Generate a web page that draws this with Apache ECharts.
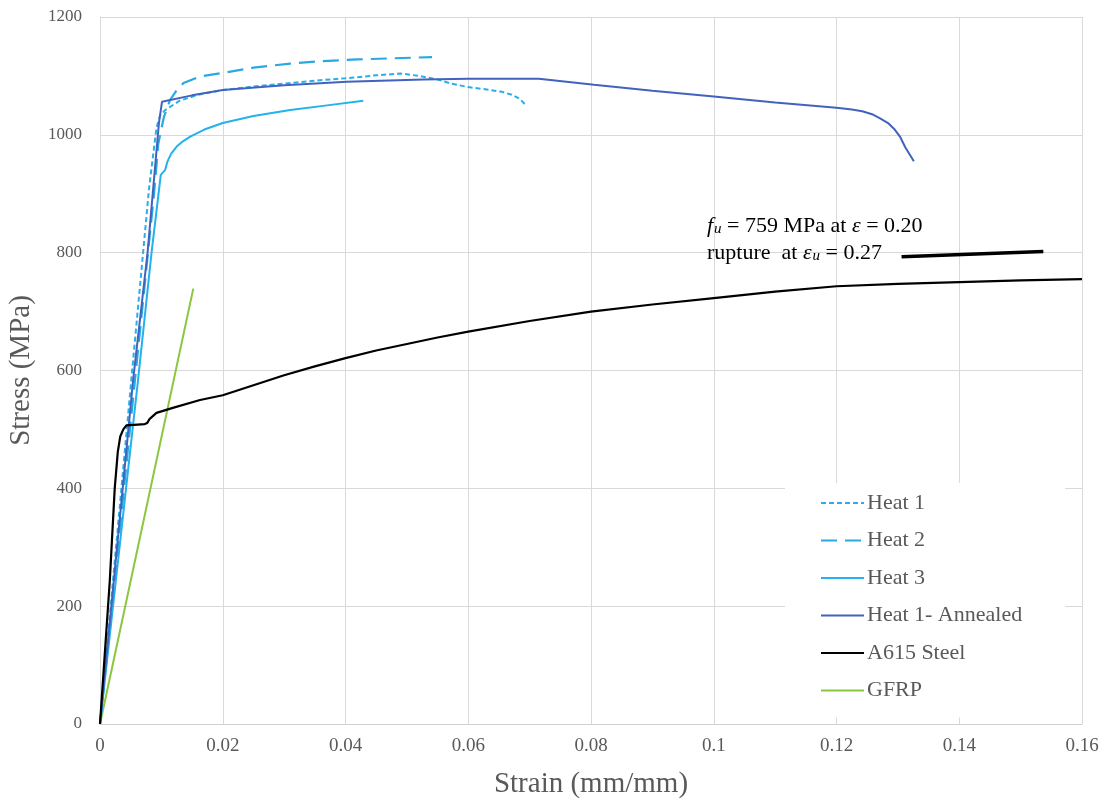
<!DOCTYPE html>
<html>
<head>
<meta charset="utf-8">
<script src="https://cdn.jsdelivr.net/npm/echarts@6/dist/echarts.min.js"></script>
<style>html,body{margin:0;padding:0;background:#fff;}#c{width:1106px;height:801px;}</style>
</head>
<body>
<div id="c"></div>
<script>
// ---- data (strain mm/mm, stress MPa) ----
const xTicks = [0, 0.02, 0.04, 0.06, 0.08, 0.1, 0.12, 0.14, 0.16];
const yTicks = [0, 200, 400, 600, 800, 1000, 1200];

const heat1X = [0, 0.002, 0.0051, 0.008, 0.0092, 0.0098, 0.0106, 0.013, 0.016, 0.02, 0.025, 0.03, 0.035, 0.04, 0.045, 0.049, 0.052, 0.055, 0.0572, 0.06, 0.063, 0.0655, 0.0671, 0.0684, 0.0694];
const heat1Y = [0, 230, 584, 910, 1012, 1033, 1042, 1058, 1068, 1076, 1082, 1087, 1092, 1096, 1101, 1104, 1100, 1094, 1087, 1081, 1077, 1073, 1068, 1061, 1050];

const heat2X = [0, 0.003, 0.0057, 0.0088, 0.0095, 0.0104, 0.0114, 0.0125, 0.0136, 0.0163, 0.02, 0.025, 0.031, 0.036, 0.0419, 0.048, 0.0541];
const heat2Y = [0, 307, 584, 900, 985, 1030, 1059, 1076, 1088, 1099, 1105, 1114, 1121, 1125, 1128, 1130, 1132];

const heat3X = [0, 0.003, 0.0062, 0.0084, 0.0099, 0.0106, 0.011, 0.0116, 0.0125, 0.0135, 0.0147, 0.017, 0.02, 0.025, 0.031, 0.037, 0.0429];
const heat3Y = [0, 283, 584, 800, 932, 940, 955, 968, 980, 989, 997, 1009, 1020, 1032, 1042, 1050, 1058];

const annealX = [0, 0.0054, 0.00775, 0.0096, 0.0101, 0.015, 0.02, 0.03, 0.0402, 0.0527, 0.06, 0.0715, 0.0805, 0.09, 0.1, 0.11, 0.12, 0.1225, 0.1242, 0.1258, 0.1271, 0.1284, 0.1294, 0.1304, 0.1312, 0.1326];
const annealY = [0, 584, 800, 1020, 1056, 1067, 1076, 1084, 1090, 1094, 1095, 1095, 1085, 1075, 1065, 1055, 1046, 1043, 1040, 1035, 1028, 1020, 1010, 996, 979, 955];

const steelX = [0, 0.0008, 0.0016, 0.0024, 0.0029, 0.0033, 0.0038, 0.0043, 0.0073, 0.0077, 0.0081, 0.0092, 0.012, 0.0163, 0.02, 0.025, 0.03, 0.035, 0.04, 0.045, 0.05, 0.055, 0.06, 0.07, 0.08, 0.09, 0.1, 0.11, 0.12, 0.13, 0.14, 0.15, 0.16];
const steelY = [0, 122, 244, 400, 462, 488, 500, 507, 509, 511, 518, 528, 537, 550, 558, 575, 592, 607, 621, 634, 645, 656, 666, 684, 700, 712, 723, 734, 743, 747, 750, 753, 755];

const gfrpX = [0, 0.0152];
const gfrpY = [0, 739];

// annotation arrow (data coords)
const arrowFrom = [0.1306, 793];
const arrowTo = [0.1537, 802];

function pairs(xs, ys) { return xs.map((x, i) => [x, ys[i]]); }

const serif = 'Liberation Serif';
const chart = echarts.init(document.getElementById('c'), null, {renderer: 'canvas'});

function lineSeries(name, xs, ys, color, width, type, z) {
  return {
    name: name, type: 'line', data: pairs(xs, ys),
    symbol: 'none', showSymbol: false, smooth: false,
    lineStyle: {color: color, width: width, type: type},
    itemStyle: {color: color},
    z: z, animation: false
  };
}

const series = [
  lineSeries('Heat 1', heat1X, heat1Y, '#2aaee6', 2, [5, 3], 5),
  lineSeries('Heat 2', heat2X, heat2Y, '#29a9e0', 2.2, [16, 8], 4),
  lineSeries('Heat 3', heat3X, heat3Y, '#23b2ec', 2, 'solid', 3),
  lineSeries('Heat 1- Annealed', annealX, annealY, '#4263bd', 2, 'solid', 6),
  lineSeries('A615 Steel', steelX, steelY, '#000000', 2.2, 'solid', 7),
  lineSeries('GFRP', gfrpX, gfrpY, '#8cc63f', 2, 'solid', 2)
];
series[4].markLine = {
  silent: true, animation: false,
  symbol: ['none', 'arrow'], symbolSize: [0, 14],
  lineStyle: {color: '#000', width: 3.5, type: 'solid'},
  label: {show: false},
  data: [[{coord: arrowFrom}, {coord: arrowTo}]]
};

const richStyles = {
  n: {fontFamily: serif, fontSize: 22, color: '#000', lineHeight: 24, verticalAlign: 'bottom'},
  fi: {fontFamily: serif, fontSize: 22, fontStyle: 'italic', color: '#000', lineHeight: 24, verticalAlign: 'bottom'},
  sub: {fontFamily: serif, fontSize: 15, fontStyle: 'italic', color: '#000', lineHeight: 14, verticalAlign: 'bottom', padding: [9, 0, 0, 1]}
};

chart.setOption({
  animation: false,
  backgroundColor: '#ffffff',
  grid: {left: 100, right: 24, top: 17, bottom: 77, containLabel: false, outerBoundsMode: 'none'},
  xAxis: {
    type: 'value', min: xTicks[0], max: xTicks[xTicks.length - 1], interval: 0.02,
    name: 'Strain (mm/mm)', nameLocation: 'middle', nameGap: 46,
    nameTextStyle: {fontFamily: serif, fontSize: 29, color: '#595959'},
    axisLine: {show: true, lineStyle: {color: '#cfcfcf', width: 1}},
    axisTick: {show: false},
    axisLabel: {fontFamily: serif, fontSize: 19, color: '#595959', margin: 13,
      formatter: v => String(+v.toFixed(2))},
    splitLine: {show: true, lineStyle: {color: '#d9d9d9', width: 1}}
  },
  yAxis: {
    type: 'value', min: yTicks[0], max: yTicks[yTicks.length - 1], interval: 200,
    name: 'Stress (MPa)', nameLocation: 'middle', nameGap: 64,
    nameTextStyle: {fontFamily: serif, fontSize: 29, color: '#595959'},
    axisLine: {show: true, lineStyle: {color: '#d9d9d9', width: 1}},
    axisTick: {show: false},
    axisLabel: {fontFamily: serif, fontSize: 17, color: '#595959', margin: 18,
      formatter: v => String(Math.round(v))},
    splitLine: {show: true, lineStyle: {color: '#d9d9d9', width: 1}}
  },
  legend: {
    orient: 'vertical', left: 785, top: 483,
    backgroundColor: '#ffffff',
    padding: [9, 43, 16, 35],
    itemWidth: 43, itemHeight: 14, itemGap: 15.5,
    itemStyle: {opacity: 0},
    textStyle: {fontFamily: serif, fontSize: 22, color: '#595959', lineHeight: 20, padding: [0, 0, 0, -2]},
    data: ['Heat 1', 'Heat 2', 'Heat 3', 'Heat 1- Annealed', 'A615 Steel', 'GFRP']
  },
  graphic: [
    {type: 'text', left: 707, top: 213, z: 100,
      style: {text: '{fi|f}{sub|u}{n| = 759 MPa at }{fi|ε}{n| = 0.20}', rich: richStyles}},
    {type: 'text', left: 707, top: 240, z: 100,
      style: {text: '{n|rupture  at }{fi|ε}{sub|u}{n| = 0.27}', rich: richStyles}}
  ],
  series: series
});
</script>
</body>
</html>
